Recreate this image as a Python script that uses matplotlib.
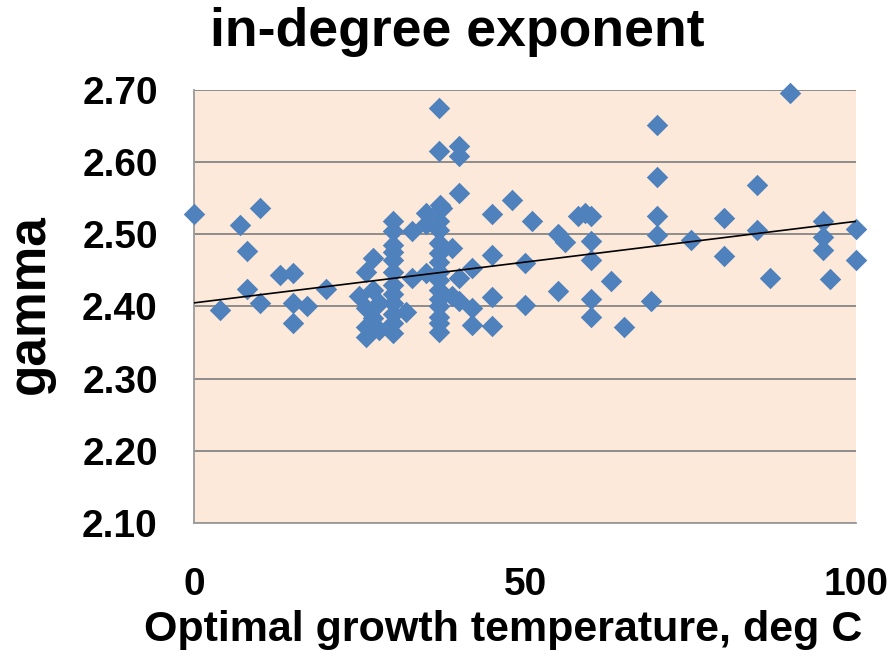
import numpy as np
import matplotlib.pyplot as plt

plt.rcParams['font.family'] = ['Liberation Sans', 'DejaVu Sans']
plt.rcParams['font.weight'] = 'bold'

# optimal growth temperature (deg C) and fitted in-degree exponent per organism
temps = [0, 4, 7, 8, 8, 10, 10, 13, 15, 15, 15, 17, 20,
         25, 26, 26, 26, 26, 27, 27, 27, 28, 28,
         30, 30, 30, 30, 30, 30, 30, 30, 30, 30, 30, 30,
         32, 33, 33, 35, 35, 35,
         37, 37, 37.2, 37.5, 37, 37, 37, 37, 37, 37, 37, 37, 37, 37, 37, 37, 37,
         39, 39, 40, 40, 40, 40, 40, 42, 42, 42,
         45, 45, 45, 45, 48, 50, 50, 51, 55, 55, 56, 58, 59,
         60, 60, 60, 60, 60, 63, 65, 69, 70, 70, 70, 70, 75,
         80, 80, 85, 85, 87, 90, 95, 95, 95, 96, 100, 100]
gamma = [2.528, 2.395, 2.513, 2.477, 2.424, 2.537, 2.405, 2.444, 2.446, 2.405, 2.377, 2.401, 2.424,
         2.414, 2.448, 2.398, 2.372, 2.358, 2.467, 2.423, 2.384, 2.405, 2.368,
         2.518, 2.504, 2.485, 2.476, 2.465, 2.448, 2.430, 2.418, 2.405, 2.390, 2.377, 2.363,
         2.393, 2.504, 2.439, 2.529, 2.515, 2.446,
         2.675, 2.616, 2.541, 2.536, 2.518, 2.506, 2.488, 2.474, 2.462, 2.448, 2.437, 2.423,
         2.411, 2.400, 2.386, 2.377, 2.365,
         2.481, 2.414, 2.622, 2.609, 2.557, 2.439, 2.408, 2.453, 2.398, 2.375,
         2.528, 2.471, 2.413, 2.373, 2.547, 2.460, 2.402, 2.518, 2.501, 2.421, 2.490, 2.525, 2.529,
         2.525, 2.491, 2.465, 2.411, 2.386, 2.436, 2.372, 2.408, 2.652, 2.579, 2.525, 2.499, 2.492,
         2.523, 2.470, 2.569, 2.506, 2.439, 2.696, 2.519, 2.496, 2.478, 2.438, 2.507, 2.464]

# linear trendline coefficients
trend_intercept = 2.405
trend_slope = 0.00113

y_ticks = [2.10, 2.20, 2.30, 2.40, 2.50, 2.60, 2.70]
x_ticks = [0, 50, 100]

fig = plt.figure(figsize=(8.93, 6.57), dpi=100)
ax = fig.add_axes([0.2172, 0.204, 0.7414, 0.659])
ax.set_facecolor('#FDE9D9')

ax.set_xlim(0, 100)
ax.set_ylim(2.10, 2.70)
ax.set_yticks(y_ticks)
ax.set_yticklabels([f'{v:.2f}' for v in y_ticks])
ax.set_xticks(x_ticks)
ax.tick_params(axis='both', length=0, labelsize=28)
ax.tick_params(axis='y', pad=26)
ax.tick_params(axis='x', pad=32)

ax.grid(axis='y', color='#868686', linewidth=1.3)
ax.set_axisbelow(True)
for side in ['top', 'right']:
    ax.spines[side].set_visible(False)
for side in ['left', 'bottom']:
    ax.spines[side].set_color('#9a9a9a')
    ax.spines[side].set_linewidth(1.3)

ax.scatter(temps, gamma, marker='D', s=120, color='#4F81BD', linewidths=0,
           zorder=3, clip_on=False)

xs = np.array([0, 100])
ax.plot(xs, trend_intercept + trend_slope * xs, color='black', linewidth=1.2, zorder=4)

fig.text(0.512, 0.951, 'in-degree exponent', ha='center', va='center',
         fontsize=38.5, fontweight='bold')
fig.text(0.564, 0.041, 'Optimal growth temperature, deg C', ha='center', va='center',
         fontsize=31, fontweight='bold')
fig.text(0.034, 0.537, 'gamma', ha='center', va='center', rotation=90,
         fontsize=37, fontweight='bold')

fig.savefig('out.png', dpi=100)
